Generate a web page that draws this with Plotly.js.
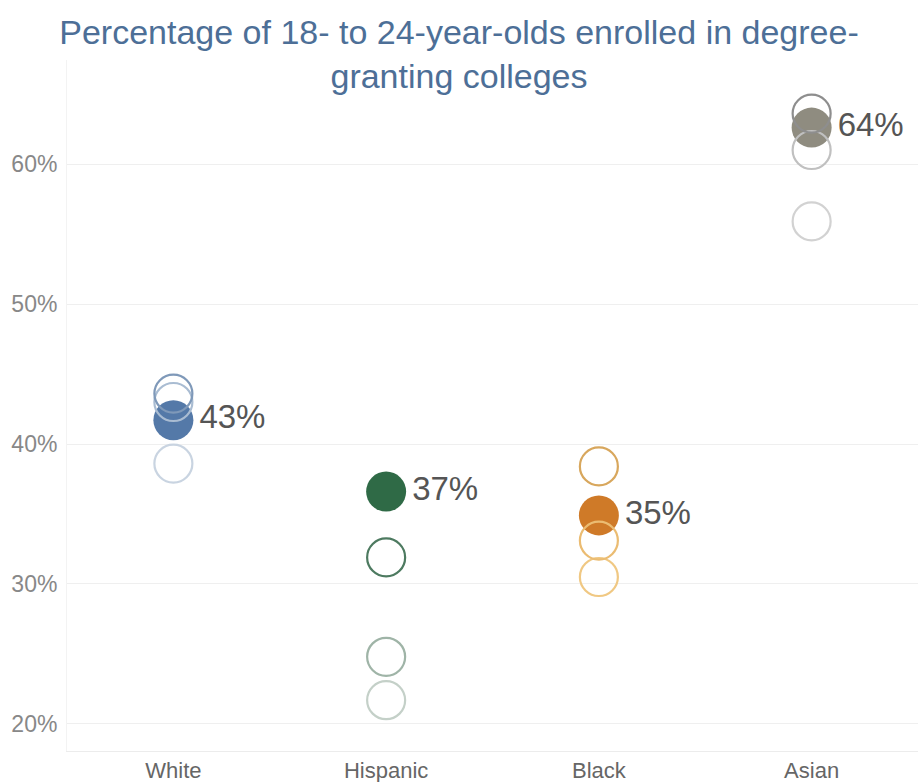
<!DOCTYPE html>
<html>
<head>
<meta charset="utf-8">
<script src="https://cdn.plot.ly/plotly-3.0.1.min.js"></script>
<style>html,body{margin:0;padding:0;background:#fff;}#chart{width:918px;height:782px;}</style>
</head>
<body>
<div id="chart"></div>
<script>
// Data
const categories = ['White', 'Hispanic', 'Black', 'Asian'];
const currentValues = [41.7, 36.6, 34.9, 62.6];
const currentLabels = ['43%', '37%', '35%', '64%'];
const pastValuesA = [43.6, 31.9, 38.4, 63.6];
const pastValuesB = [43.0, 24.8, 33.1, 61.0];
const pastValuesC = [38.6, 21.7, 30.5, 55.9];
const yTickValues = [20, 30, 40, 50, 60];
const yTickLabels = yTickValues.map(v => v + '%');

// Styles
const fillColors = ['#5479a8', '#2f6a46', '#cf7a28', '#8f8c80'];
const pastColorsA = ['#7f99b9', '#4d7a60', '#d8a75d', '#8e8e8e'];
const pastColorsB = ['#a9bcd2', '#9fb4a7', '#ebbc72', '#c0c0c0'];
const pastColorsC = ['#c9d4e1', '#c4d0c8', '#f0c883', '#d2d2d2'];

function hollow(vals, cols) {
  return {
    type: 'scatter', mode: 'markers', x: categories, y: vals,
    marker: {size: 38, color: 'rgba(0,0,0,0)', line: {color: cols, width: 2.2}},
    hoverinfo: 'x+y', showlegend: false
  };
}

const traces = [
  hollow(pastValuesC, pastColorsC),
  {
    type: 'scatter', mode: 'markers+text', x: categories, y: currentValues,
    text: currentLabels, textposition: 'middle right',
    textfont: {family: 'Liberation Sans, Arial, sans-serif', size: 33, color: '#555555'},
    marker: {size: 40, color: fillColors, line: {width: 0}},
    showlegend: false, cliponaxis: false
  },
  hollow(pastValuesB, pastColorsB),
  hollow(pastValuesA, pastColorsA)
];

const layout = {
  width: 918, height: 782,
  margin: {l: 67, r: 0, t: 60, b: 31},
  paper_bgcolor: '#ffffff', plot_bgcolor: '#ffffff',
  font: {family: 'Liberation Sans, Arial, sans-serif', color: '#777777'},
  title: {
    text: 'Percentage of 18- to 24-year-olds enrolled in degree-<br>granting colleges',
    font: {size: 34, color: '#4d6f97', family: 'Liberation Sans, Arial, sans-serif'},
    x: 0.5, xref: 'container', xanchor: 'center',
    y: 0.944, yref: 'container', yanchor: 'middle'
  },
  xaxis: {
    type: 'category', categoryarray: categories, range: [-0.5, 3.5],
    showgrid: false, zeroline: false, showline: true, linecolor: '#ececec', linewidth: 1,
    tickfont: {size: 22, color: '#666666'}, ticks: '', ticklen: 0, ticklabelstandoff: 0
  },
  yaxis: {
    range: [18.07, 67.43], tickvals: yTickValues, ticktext: yTickLabels, tickmode: 'array',
    showgrid: true, gridcolor: '#efefef', gridwidth: 1, zeroline: false,
    showline: true, linecolor: '#f3f3f3', linewidth: 1,
    tickfont: {size: 23, color: '#888888'}, ticks: '', ticklabelstandoff: 4
  },
  showlegend: false
};

Plotly.newPlot('chart', traces, layout, {displayModeBar: false, staticPlot: true});
</script>
</body>
</html>
